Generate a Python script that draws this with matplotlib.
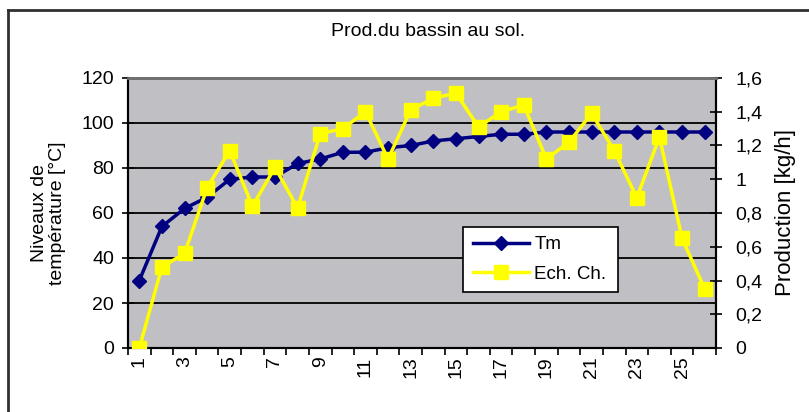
import matplotlib
matplotlib.use('Agg')
import matplotlib.pyplot as plt
from matplotlib.lines import Line2D
from matplotlib.ticker import FuncFormatter, MultipleLocator, FixedLocator
import numpy as np

plt.rcParams['font.family'] = ['Liberation Sans', 'DejaVu Sans']

# data
days = list(range(1, 27))
tm = [30, 54, 62, 67, 75, 76, 76, 82, 84, 87, 87, 89, 90, 92, 93, 94,
      95, 95, 96, 96, 96, 96, 96, 96, 96, 96]
ech_ch = [0.0, 0.48, 0.56, 0.95, 1.17, 0.84, 1.07, 0.83, 1.27, 1.30, 1.40, 1.12,
          1.41, 1.48, 1.51, 1.31, 1.40, 1.44, 1.12, 1.22, 1.39, 1.17, 0.89, 1.25,
          0.65, 0.35]
x_labels = [str(d) for d in days[::2]]

fig = plt.figure(figsize=(8.09, 4.12), dpi=100)
ax = fig.add_axes([128 / 809, 1 - 348 / 412, 588 / 809, 270 / 412])
ax.set_facecolor('#C0BFC4')

ax.plot(days, tm, color='#000080', lw=2.5, marker='D', markersize=7,
        label='Tm', zorder=3)
ax.set_xlim(0.5, 26.5)
ax.set_ylim(0, 120)
ax.yaxis.set_major_locator(MultipleLocator(20))
ax.yaxis.grid(True, color='black', lw=1.3)
ax.set_axisbelow(True)

# category ticks between categories, labels every other category
ax.xaxis.set_major_locator(FixedLocator(np.arange(0.5, 27, 1)))
ax.xaxis.set_major_formatter(FuncFormatter(lambda v, p: ''))
ax.xaxis.set_minor_locator(FixedLocator(days[::2]))
ax.set_xticklabels(x_labels, minor=True, rotation=90, fontsize=14)
ax.tick_params(axis='x', which='major', direction='out', length=5, width=1.2)
ax.tick_params(axis='x', which='minor', length=0, pad=6)
ax.tick_params(axis='y', direction='inout', length=8, width=1.2, labelsize=14, pad=6)

ax.set_ylabel('Niveaux de\ntempérature [°C]', fontsize=14, linespacing=1.1)
ax.yaxis.set_label_coords(-0.105, 0.5)

ax2 = ax.twinx()
ax2.plot(days, ech_ch, color='#FFFF00', lw=2.5, marker='s', markersize=10.5,
         label='Ech. Ch.', zorder=3)
ax2.set_ylim(0, 1.6)
ax2.yaxis.set_major_locator(MultipleLocator(0.2))
ax2.yaxis.set_major_formatter(FuncFormatter(lambda v, p: ('%g' % round(v, 1)).replace('.', ',')))
ax2.tick_params(axis='y', direction='inout', length=8, width=1.2, labelsize=14, pad=10)
ax2.set_ylabel('Production [kg/h]', fontsize=16)
ax2.yaxis.set_label_coords(1.100, 0.5)

for a in (ax, ax2):
    a.spines['left'].set_linewidth(1.5)
    a.spines['right'].set_linewidth(1.5)
    a.spines['bottom'].set_linewidth(1.5)
    a.spines['top'].set_color('#707070')
    a.spines['top'].set_linewidth(2)

h1, l1 = ax.get_legend_handles_labels()
h2, l2 = ax2.get_legend_handles_labels()
leg = ax2.legend(h1 + h2, l1 + l2, loc='lower left',
                 bbox_to_anchor=(0.570, 0.207, 0.264, 0.241), mode='expand',
                 borderaxespad=0, fancybox=False, framealpha=1, edgecolor='black',
                 fontsize=13.5, borderpad=0.5, handlelength=3.0, handletextpad=0.3,
                 labelspacing=0.65)
leg.get_frame().set_linewidth(1.2)

fig.text(428 / 809, 1 - 32 / 412, 'Prod.du bassin au sol.', ha='center', va='center', fontsize=14)

# outer chart border (top and left visible)
fig.add_artist(Line2D([8 / 809, 1.0], [1 - 10 / 412, 1 - 10 / 412], color='#303030', lw=2))
fig.add_artist(Line2D([8 / 809, 8 / 809], [0.0, 1 - 10 / 412], color='#303030', lw=2))

fig.savefig('out.png', dpi=100)
